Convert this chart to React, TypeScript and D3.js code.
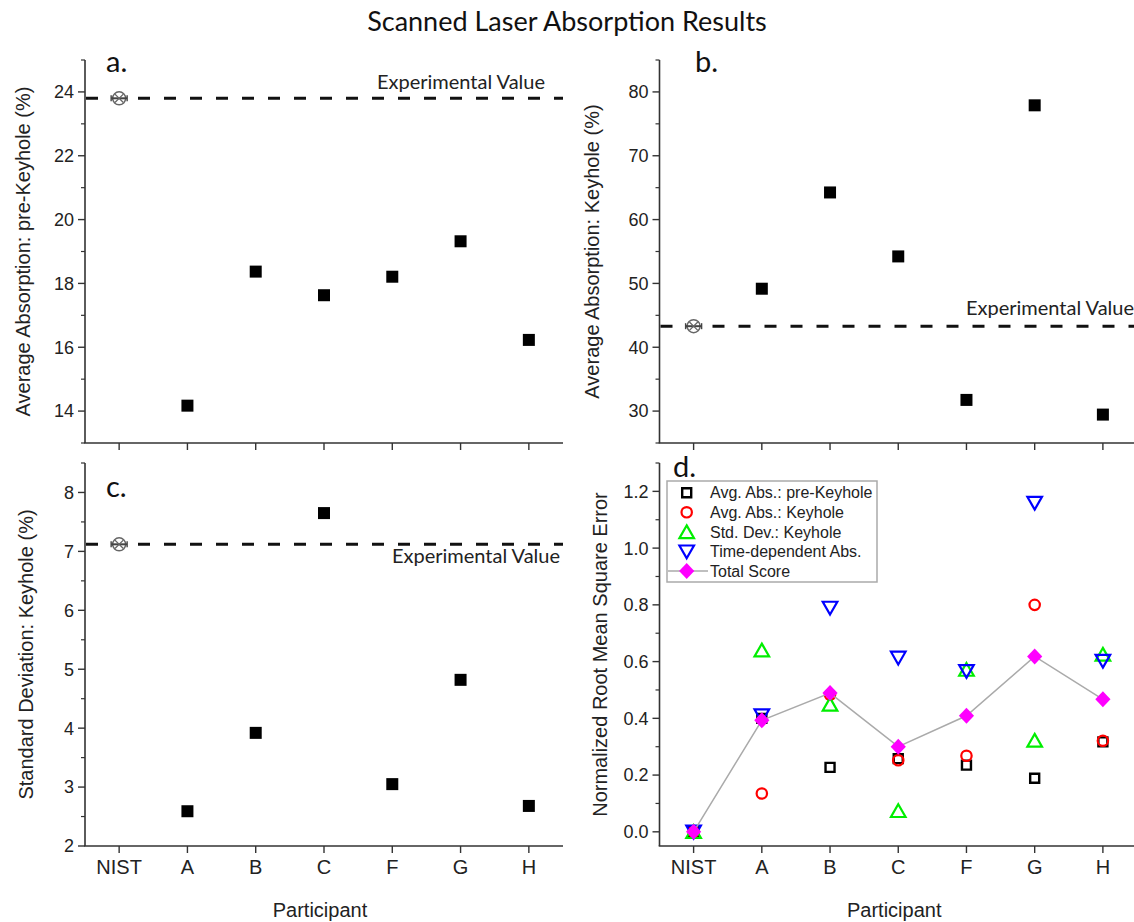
import React, { useEffect, useRef } from "react";
import * as d3 from "d3";

// ---------- data ----------
const participants = ["NIST", "A", "B", "C", "F", "G", "H"];

// panel a: average absorption, pre-keyhole (%)
const preKeyholeAbs = [23.8, 14.17, 18.37, 17.63, 18.21, 19.32, 16.23];
const expPreKeyhole = 23.8;
// panel b: average absorption, keyhole (%)
const keyholeAbs = [43.3, 49.17, 64.25, 54.23, 31.75, 77.9, 29.45];
const expKeyhole = 43.3;
// panel c: standard deviation, keyhole (%)
const keyholeStd = [7.12, 2.59, 3.92, 7.65, 3.05, 4.82, 2.68];
const expStd = 7.12;

// panel d: normalized RMSE
const nrmsePreKeyhole = [0, 0.4, 0.227, 0.258, 0.235, 0.189, 0.317];
const nrmseKeyhole = [0, 0.135, 0.483, 0.252, 0.268, 0.8, 0.321];
const nrmseStd = [0, 0.64, 0.449, 0.074, 0.572, 0.322, 0.625];
const nrmseTime = [0, 0.41, 0.789, 0.613, 0.566, 1.159, 0.602];
const totalScore = [0, 0.393, 0.489, 0.3, 0.409, 0.618, 0.467];

const legendLabels = [
  "Avg. Abs.: pre-Keyhole",
  "Avg. Abs.: Keyhole",
  "Std. Dev.: Keyhole",
  "Time-dependent Abs.",
  "Total Score",
];

const yMajorA = [14, 16, 18, 20, 22, 24];
const yMinorA = [13, 15, 17, 19, 21, 23, 25];
const yMajorB = [30, 40, 50, 60, 70, 80];
const yMinorB = [25, 35, 45, 55, 65, 75, 85];
const yMajorC = [2, 3, 4, 5, 6, 7, 8];
const yMinorC = [2.5, 3.5, 4.5, 5.5, 6.5, 7.5, 8.5];
const yMajorD = [0, 0.2, 0.4, 0.6, 0.8, 1.0, 1.2];
const yMinorD = [0.1, 0.3, 0.5, 0.7, 0.9, 1.1, 1.3];

const title = "Scanned Laser Absorption Results";
const xTitle = "Participant";
const expLabel = "Experimental Value";

// ---------- style ----------
const ARIAL = "'Liberation Sans', Arial, sans-serif";
const CALIBRI = "Lato, 'Open Sans', sans-serif";
const AXIS = "#333";
const TXT = "#222";

const LEFT: [number, number] = [85, 563];
const RIGHT: [number, number] = [659.5, 1137];
const TOP: [number, number] = [443, 60];
const BOTTOM: [number, number] = [846, 463];

type Sel = d3.Selection<SVGGElement, unknown, null, undefined>;

function drawPanel(
  root: Sel,
  xr: [number, number],
  yr: [number, number],
  domain: [number, number],
  major: number[],
  minor: number[],
  fmt: (v: number) => string,
  showXLabels: boolean,
  yTitle: string,
  yTitleX: number,
  tag: string,
  tagX: number,
  tagY: number
) {
  const x = d3.scalePoint<string>().domain(participants).range(xr).padding(0.5);
  const y = d3.scaleLinear().domain(domain).range(yr);
  const g = root.append("g");

  g.append("line")
    .attr("x1", xr[0]).attr("x2", xr[0])
    .attr("y1", yr[1]).attr("y2", yr[0])
    .attr("stroke", AXIS).attr("stroke-width", 1.6);
  g.append("line")
    .attr("x1", xr[0] - 0.8).attr("x2", xr[1])
    .attr("y1", yr[0]).attr("y2", yr[0])
    .attr("stroke", AXIS).attr("stroke-width", 1.6);

  g.selectAll(".ymaj").data(major).enter().append("line")
    .attr("x1", xr[0] - 7).attr("x2", xr[0])
    .attr("y1", (d) => y(d)).attr("y2", (d) => y(d))
    .attr("stroke", AXIS).attr("stroke-width", 1.4);
  g.selectAll(".ymin").data(minor).enter().append("line")
    .attr("x1", xr[0] - 4).attr("x2", xr[0])
    .attr("y1", (d) => y(d)).attr("y2", (d) => y(d))
    .attr("stroke", AXIS).attr("stroke-width", 1.2);
  g.selectAll(".ylab").data(major).enter().append("text")
    .attr("x", xr[0] - 11).attr("y", (d) => y(d) + 6.4)
    .attr("text-anchor", "end")
    .attr("font-family", ARIAL).attr("font-size", 18).attr("fill", TXT)
    .text((d) => fmt(d));

  g.selectAll(".xt").data(participants).enter().append("line")
    .attr("x1", (d) => x(d)!).attr("x2", (d) => x(d)!)
    .attr("y1", yr[0]).attr("y2", yr[0] + 7)
    .attr("stroke", AXIS).attr("stroke-width", 1.4);

  if (showXLabels) {
    g.selectAll(".xl").data(participants).enter().append("text")
      .attr("x", (d) => x(d)!).attr("y", yr[0] + 27.5)
      .attr("text-anchor", "middle")
      .attr("font-family", ARIAL).attr("font-size", 20).attr("fill", TXT)
      .text((d) => d);
    g.append("text")
      .attr("x", (xr[0] + xr[1]) / 2 - 4).attr("y", 916.5)
      .attr("text-anchor", "middle")
      .attr("font-family", ARIAL).attr("font-size", 20).attr("fill", TXT)
      .text(xTitle);
  }

  g.append("text")
    .attr("transform", `translate(${yTitleX},${(yr[0] + yr[1]) / 2}) rotate(-90)`)
    .attr("text-anchor", "middle")
    .attr("font-family", ARIAL).attr("font-size", 20).attr("fill", TXT)
    .text(yTitle);

  g.append("text")
    .attr("x", tagX).attr("y", tagY)
    .attr("font-family", CALIBRI).attr("font-size", 29).attr("fill", "#111")
    .text(tag);

  return { x, y, g };
}

function drawExperimental(
  g: Sel,
  x: d3.ScalePoint<string>,
  y: d3.ScaleLinear<number, number>,
  xr: [number, number],
  value: number,
  labelEnd: number,
  labelY: number
) {
  g.append("line")
    .attr("x1", xr[0] + 1).attr("x2", xr[1])
    .attr("y1", y(value)).attr("y2", y(value))
    .attr("stroke", "#111").attr("stroke-width", 3)
    .attr("stroke-dasharray", "12 14");
  g.append("text")
    .attr("x", labelEnd).attr("y", labelY)
    .attr("text-anchor", "end")
    .attr("font-family", CALIBRI).attr("font-size", 20).attr("fill", "#222")
    .text(expLabel);
}

function drawNistMarker(g: Sel, cx: number, cy: number) {
  const m = g.append("g").attr("transform", `translate(${cx},${cy})`);
  m.append("circle").attr("r", 6.5).attr("fill", "#fff")
    .attr("stroke", "#666").attr("stroke-width", 1.4);
  m.append("line").attr("x1", -8).attr("x2", 8).attr("y1", 0).attr("y2", 0)
    .attr("stroke", "#444").attr("stroke-width", 2);
  m.append("line").attr("x1", -8).attr("x2", -8).attr("y1", -3).attr("y2", 3)
    .attr("stroke", "#444").attr("stroke-width", 1.4);
  m.append("line").attr("x1", 8).attr("x2", 8).attr("y1", -3).attr("y2", 3)
    .attr("stroke", "#444").attr("stroke-width", 1.4);
  m.append("path").attr("d", "M-4.2,-4.2L4.2,4.2M-4.2,4.2L4.2,-4.2")
    .attr("stroke", "#666").attr("stroke-width", 1.3);
}

function drawSquares(
  g: Sel,
  x: d3.ScalePoint<string>,
  y: d3.ScaleLinear<number, number>,
  values: number[]
) {
  participants.forEach((p, i) => {
    if (i === 0) return;
    g.append("rect")
      .attr("x", x(p)! - 6).attr("y", y(values[i]) - 6)
      .attr("width", 12).attr("height", 12)
      .attr("fill", "#000");
  });
}

const SQUARE = "M-4.5,-4.5H4.5V4.5H-4.5Z";
const TRI_UP = "M0,-6.6L7.3,6.2L-7.3,6.2Z";
const TRI_DOWN = "M0,6.6L7.3,-6.2L-7.3,-6.2Z";
const DIAMOND = "M0,-8L7.6,0L0,8L-7.6,0Z";

export default function App() {
  const ref = useRef<SVGSVGElement>(null);

  useEffect(() => {
    const svgSel = d3.select(ref.current);
    svgSel.selectAll("*").remove();
    const root = svgSel.append("g") as unknown as Sel;

    root.append("rect").attr("width", 1134).attr("height", 922).attr("fill", "#fff");

    root.append("text")
      .attr("x", 567).attr("y", 31)
      .attr("text-anchor", "middle")
      .attr("font-family", CALIBRI).attr("font-size", 27).attr("fill", "#111")
      .text(title);

    const f0 = d3.format("d");
    const f1 = d3.format(".1f");

    // panel a
    const a = drawPanel(root, LEFT, TOP, [13, 25], yMajorA, yMinorA, f0, false,
      "Average Absorption: pre-Keyhole (%)", 29.5, "a.", 106, 72);
    drawExperimental(a.g, a.x, a.y, LEFT, expPreKeyhole, 545, 88.5);
    drawNistMarker(a.g, a.x("NIST")!, a.y(preKeyholeAbs[0]));
    drawSquares(a.g, a.x, a.y, preKeyholeAbs);

    // panel b
    const b = drawPanel(root, RIGHT, TOP, [25, 85], yMajorB, yMinorB, f0, false,
      "Average Absorption: Keyhole (%)", 599, "b.", 695, 72);
    drawExperimental(b.g, b.x, b.y, RIGHT, expKeyhole, 1134, 315);
    drawNistMarker(b.g, b.x("NIST")!, b.y(keyholeAbs[0]));
    drawSquares(b.g, b.x, b.y, keyholeAbs);

    // panel c
    const c = drawPanel(root, LEFT, BOTTOM, [2, 8.5], yMajorC, yMinorC, f0, true,
      "Standard Deviation: Keyhole (%)", 32.5, "c.", 106, 497);
    drawExperimental(c.g, c.x, c.y, LEFT, expStd, 560, 563);
    drawNistMarker(c.g, c.x("NIST")!, c.y(keyholeStd[0]));
    drawSquares(c.g, c.x, c.y, keyholeStd);

    // panel d
    const d = drawPanel(root, RIGHT, BOTTOM, [-0.05, 1.3], yMajorD, yMinorD, f1, true,
      "Normalized Root Mean Square Error", 607, "d.", 673, 477);
    const dx = d.x, dy = d.y, dg = d.g;

    const pt = (i: number, v: number) => `translate(${dx(participants[i])},${dy(v)})`;

    nrmsePreKeyhole.forEach((v, i) => {
      dg.append("path").attr("d", SQUARE).attr("transform", pt(i, v))
        .attr("fill", "none").attr("stroke", "#000").attr("stroke-width", 2.4);
    });
    nrmseKeyhole.forEach((v, i) => {
      dg.append("circle").attr("r", 5.2).attr("transform", pt(i, v))
        .attr("fill", "none").attr("stroke", "#ff0000").attr("stroke-width", 2.2);
    });
    nrmseStd.forEach((v, i) => {
      dg.append("path").attr("d", TRI_UP).attr("transform", pt(i, v))
        .attr("fill", "none").attr("stroke", "#00ee00").attr("stroke-width", 2.2);
    });
    nrmseTime.forEach((v, i) => {
      dg.append("path").attr("d", TRI_DOWN).attr("transform", pt(i, v))
        .attr("fill", "none").attr("stroke", "#0000ff").attr("stroke-width", 2.2);
    });
    const line = d3.line<number>()
      .x((_, i) => dx(participants[i])!)
      .y((v) => dy(v));
    dg.append("path").attr("d", line(totalScore)!)
      .attr("fill", "none").attr("stroke", "#aaa").attr("stroke-width", 1.5);
    totalScore.forEach((v, i) => {
      dg.append("path").attr("d", DIAMOND).attr("transform", pt(i, v))
        .attr("fill", "#ff00ff");
    });

    // legend
    const lg = dg.append("g");
    lg.append("rect").attr("x", 667).attr("y", 481).attr("width", 210).attr("height", 101)
      .attr("fill", "#fff").attr("stroke", "#aaa").attr("stroke-width", 1.5);
    const rows = [492.7, 512.3, 532, 551.7, 571];
    const symX = 686.7;
    lg.append("path").attr("d", SQUARE).attr("transform", `translate(${symX},${rows[0]})`)
      .attr("fill", "none").attr("stroke", "#000").attr("stroke-width", 2.4);
    lg.append("circle").attr("r", 5.2).attr("transform", `translate(${symX},${rows[1]})`)
      .attr("fill", "none").attr("stroke", "#ff0000").attr("stroke-width", 2.2);
    lg.append("path").attr("d", TRI_UP).attr("transform", `translate(${symX},${rows[2]})`)
      .attr("fill", "none").attr("stroke", "#00ee00").attr("stroke-width", 2.2);
    lg.append("path").attr("d", TRI_DOWN).attr("transform", `translate(${symX},${rows[3]})`)
      .attr("fill", "none").attr("stroke", "#0000ff").attr("stroke-width", 2.2);
    lg.append("line").attr("x1", 668).attr("x2", 708).attr("y1", rows[4]).attr("y2", rows[4])
      .attr("stroke", "#aaa").attr("stroke-width", 1.5);
    lg.append("path").attr("d", DIAMOND).attr("transform", `translate(${symX},${rows[4]})`)
      .attr("fill", "#ff00ff");
    legendLabels.forEach((t, i) => {
      lg.append("text").attr("x", 710).attr("y", rows[i] + 5.6)
        .attr("font-family", ARIAL).attr("font-size", 16).attr("fill", TXT)
        .text(t);
    });
  }, []);

  return (
    <svg
      ref={ref}
      width={1134}
      height={922}
      style={{ position: "absolute", left: 0, top: 0, background: "#fff" }}
    />
  );
}
